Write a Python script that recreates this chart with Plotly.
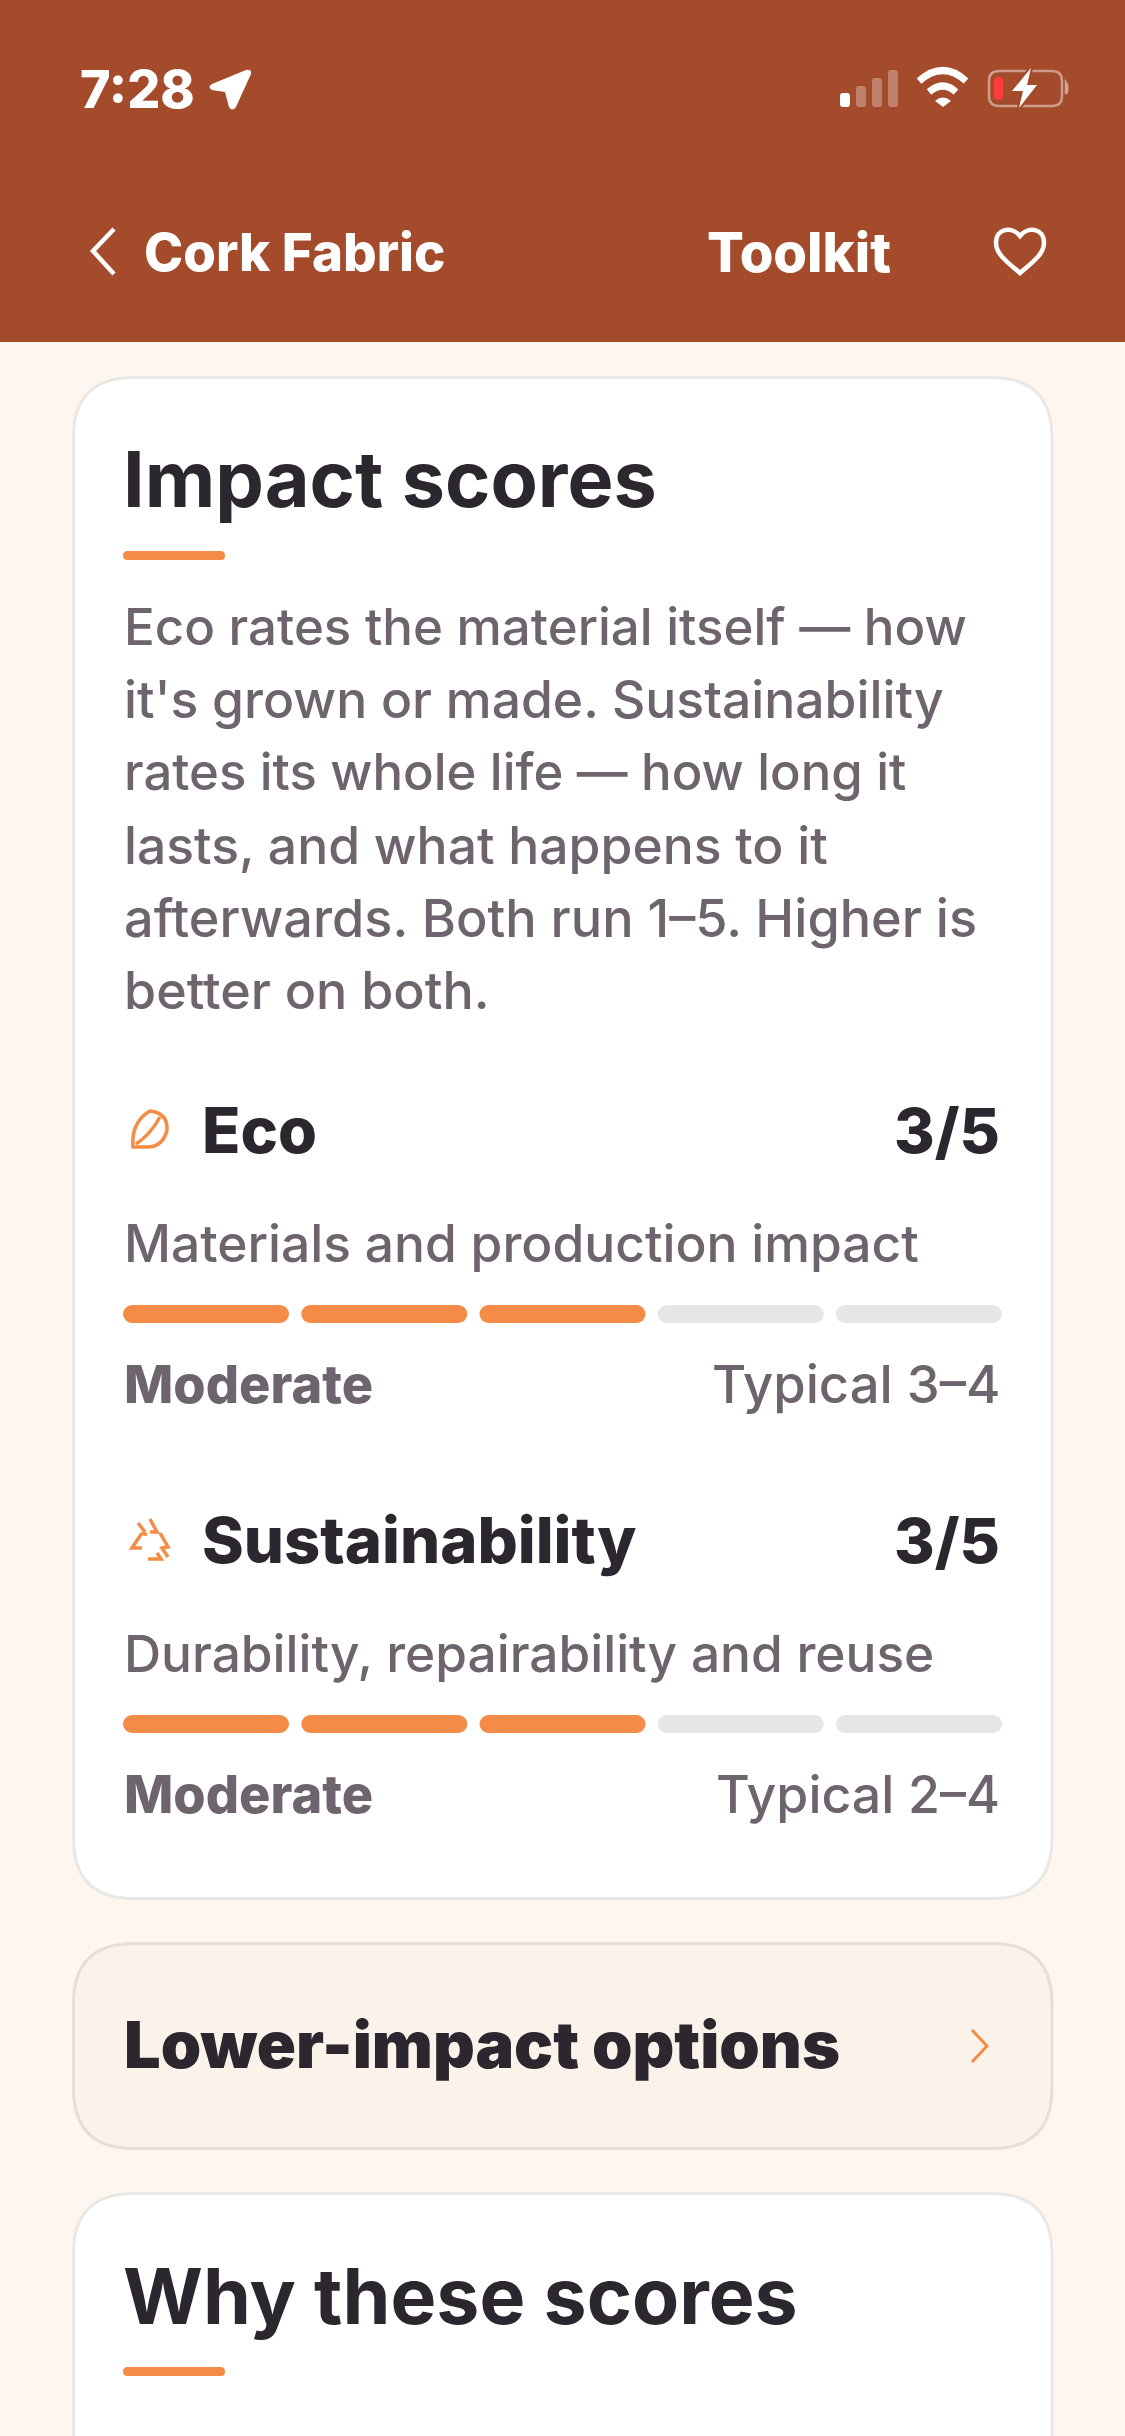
import re
import plotly.graph_objects as go

W = 1125
H = 2436

# score data
metrics = ['Sustainability', 'Eco']
scores = [3, 3]
segments = [1, 2, 3, 4, 5]
seg_width = 0.9315

body_lines = [
    "Eco rates the material itself — how",
    "it's grown or made. Sustainability",
    "rates its whole life — how long it",
    "lasts, and what happens to it",
    "afterwards. Both run 1–5. Higher is",
    "better on both.",
]
body_y = [626, 699, 772, 845, 918, 991]
body_size = [51, 51.6, 50.8, 51.6, 52.2, 52]

HEADER = '#A44B2B'
PAGE = '#FFF6F0'
ORANGE = '#F48C47'
DARK = '#2C272E'
GREY = '#6D646E'
TRACK = '#E6E6E6'
FONT = 'Inter'


def px(path):
    # pixel path -> paper coordinates, numbers alternate x, y
    count = [0]

    def conv(m):
        v = float(m.group(0))
        count[0] += 1
        if count[0] % 2 == 1:
            return f'{v / W:.5f}'
        return f'{1 - v / H:.5f}'

    return re.sub(r'-?\d+\.?\d*', conv, path)


def rrect(x0, y0, x1, y1, r):
    return (f'M{x0} {y0 + r} Q{x0} {y0} {x0 + r} {y0} L{x1 - r} {y0} Q{x1} {y0} {x1} {y0 + r} '
            f'L{x1} {y1 - r} Q{x1} {y1} {x1 - r} {y1} L{x0 + r} {y1} Q{x0} {y1} {x0} {y1 - r} Z')


def shape(path, fill=None, line=None, lw=0, opacity=1):
    return dict(type='path', path=px(path), xref='paper', yref='paper', layer='below',
                fillcolor=fill if fill else 'rgba(0,0,0,0)', opacity=opacity,
                line=dict(color=line if line else 'rgba(0,0,0,0)', width=lw))


def text(s, x, y, size, color, weight=400, anchor='left'):
    return dict(text=s, x=x / W, y=1 - y / H, xref='paper', yref='paper', xanchor=anchor,
                yanchor='middle', showarrow=False, borderpad=0,
                font=dict(family=FONT, size=size, color=color, weight=weight))


bolt = 'M1031 68 L1012 91 L1023 91 L1019 108 L1037 85 L1027 85 Z'

shapes = [
    shape(rrect(0, 0, 1125, 342, 0), fill=HEADER),
    # cards
    shape(rrect(73.5, 377.5, 1052, 1898.5, 60), fill='#FFFFFF', line='#EAE8E6', lw=3),
    shape(rrect(73.5, 1943.5, 1052, 2148.5, 60), fill='#FBF2E9', line='#E7DFD7', lw=3),
    shape(rrect(73.5, 2193.5, 1052, 2600, 60), fill='#FFFFFF', line='#EAE8E6', lw=3),
    # title underlines
    shape(rrect(123, 551, 225, 560, 4.5), fill=ORANGE),
    shape(rrect(123, 2367, 225, 2376, 4.5), fill=ORANGE),
    # location arrow
    shape('M212 84 L246 70 Q252 69 251 74 L236 107 Q232 112 229 107 L225 92 L212 90 Q207 87 212 84 Z', fill='#FFFFFF'),
    # signal
    shape(rrect(840, 93, 850, 107, 3), fill='#FFFFFF'),
    shape(rrect(856, 86, 866, 107, 3), fill='#FFFFFF', opacity=0.3),
    shape(rrect(872, 78, 882, 107, 3), fill='#FFFFFF', opacity=0.3),
    shape(rrect(888, 70, 898, 107, 3), fill='#FFFFFF', opacity=0.3),
    # wifi
    shape('M919 81 Q943 60 966 81', line='#FFFFFF', lw=7),
    shape('M929 92 Q943 80 956 92', line='#FFFFFF', lw=7),
    shape('M935 101 Q943 94 951 101 L943 107 Z', fill='#FFFFFF'),
    # battery
    shape(rrect(989, 71, 1062, 106, 10), line='rgba(255,255,255,0.45)', lw=2.5),
    shape('M1066 83 Q1069 88 1066 94 L1066 83 Z', line='rgba(255,255,255,0.5)', lw=2.5),
    shape(rrect(994, 77, 1003, 100, 4), fill='#FF3B3B'),
    shape(bolt, line=HEADER, lw=4),
    shape(bolt, fill='#FFFFFF'),
    # back chevron
    shape('M114 229 L93 251 L114 274', line='#FFFFFF', lw=4.5),
    # heart
    shape('M1020 236 C1012 226 996 228 996 243 C996 255 1010 264 1020 273 C1030 264 1044 255 1044 243 C1044 228 1028 226 1020 236 Z',
          line='#FFFFFF', lw=4.5),
    # leaf
    shape('M150 1111 Q168 1113 167 1130 Q163 1147 147 1147 L133 1147 Q131 1122 150 1111 Z', line=ORANGE, lw=3.5),
    shape('M136 1144 Q150 1135 160 1117', line=ORANGE, lw=3.5),
    # recycle
    shape('M138 1523 L145 1532 M150 1519 L157 1532 L150 1532 M160 1533 L168 1547 L162 1548 L168 1557', line=ORANGE, lw=3.5),
    shape('M142 1533 L132 1548 L142 1548 M157 1553 L161 1559 L148 1559 M142 1533 L147 1535', line=ORANGE, lw=3.5),
    # list chevron
    shape('M972 2030 L987 2046 L972 2062', line=ORANGE, lw=3),
]

annotations = [
    text('7:28', 79, 89, 52, '#FFFFFF', 800),
    text('Cork Fabric', 143, 252, 52.8, '#FFFFFF', 800),
    text('Toolkit', 706, 252, 54.5, '#FFFFFF', 800),
    text('Impact scores', 122, 479, 77.3, DARK, 700),
    text('Eco', 201, 1130, 63, DARK, 800),
    text('3/5', 1001, 1130, 62, DARK, 800, 'right'),
    text('Materials and production impact', 123, 1243, 51.5, GREY, 500),
    text('Moderate', 123, 1384, 52.3, GREY, 800),
    text('Typical 3–4', 1001, 1384, 52.5, GREY, 500, 'right'),
    text('Sustainability', 201, 1540, 63.3, DARK, 800),
    text('3/5', 1001, 1540, 62, DARK, 800, 'right'),
    text('Durability, repairability and reuse', 123, 1653, 51.4, GREY, 500),
    text('Moderate', 123, 1794, 52.3, GREY, 800),
    text('Typical 2–4', 1001, 1794, 51.8, GREY, 500, 'right'),
    text('Lower-impact options', 123, 2045, 64.8, DARK, 900),
    text('Why these scores', 122, 2296, 77, DARK, 700),
]
for line, y, size in zip(body_lines, body_y, body_size):
    annotations.append(text(line, 123, y, size, GREY, 500))

fig = go.Figure()
for seg in segments:
    colors = [ORANGE if seg <= s else TRACK for s in scores]
    fig.add_trace(go.Bar(
        y=metrics,
        x=[seg_width] * len(metrics),
        base=[seg - 1] * len(metrics),
        orientation='h',
        marker=dict(color=colors, line=dict(width=0)),
        width=18 / 410,
        showlegend=False,
        hoverinfo='skip',
    ))

fig.update_layout(
    width=W,
    height=H,
    margin=dict(l=0, r=0, t=0, b=0),
    paper_bgcolor=PAGE,
    plot_bgcolor='rgba(0,0,0,0)',
    barmode='overlay',
    barcornerradius=9,
    showlegend=False,
    shapes=shapes,
    annotations=annotations,
    # axes span exactly the segment rows of the cards
    xaxis=dict(visible=False, range=[0, 5 - (1 - seg_width)], domain=[123 / W, 1002 / W], fixedrange=True),
    yaxis=dict(visible=False, type='category', range=[-9 / 410, 1 + 9 / 410],
               domain=[1 - 1733 / H, 1 - 1305 / H], fixedrange=True),
)

fig.write_html("out.html", config=dict(displayModeBar=False), post_script="document.body.style.margin='0';")
